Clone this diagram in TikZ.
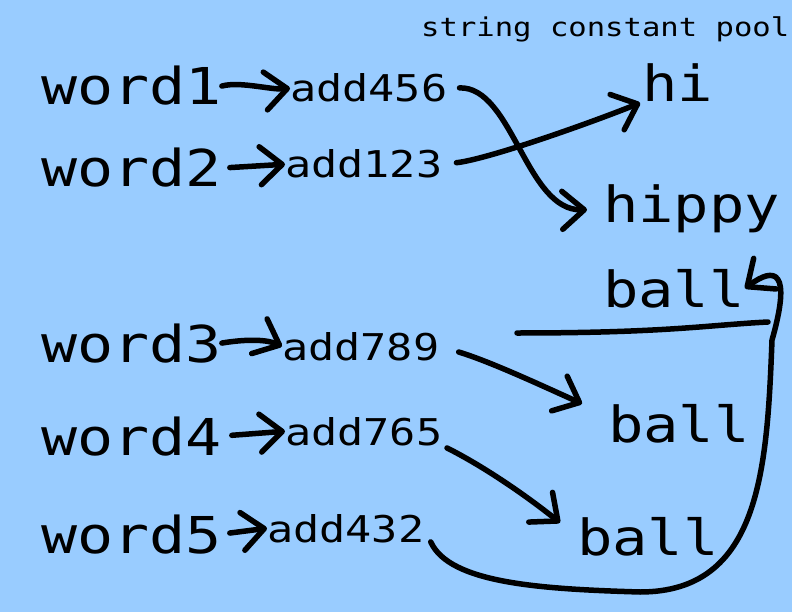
\documentclass[tikz,border=0pt]{standalone}
\usepackage{fontspec}
\usepackage{tikz}
\usetikzlibrary{arrows.meta}
\newfontfamily\pixfont[FakeStretch=1.18]{DejaVu Sans Mono}
\definecolor{sky}{RGB}{153,204,255}

\begin{document}
\begin{tikzpicture}[x=1bp,y=-1bp,
hand/.style={line width=5.5bp,line cap=round,line join=round},
pointer/.style={hand,-{Straight Barb[length=22bp,width=38bp,round]}},
var/.style={anchor=base west,inner sep=0pt,font=\pixfont\fontsize{51}{51}\selectfont},
addr/.style={anchor=base west,inner sep=0pt,font=\pixfont\fontsize{37}{37}\selectfont},
pool/.style={anchor=base west,inner sep=0pt,font=\pixfont\fontsize{50}{50}\selectfont},
pooltitle/.style={anchor=base west,inner sep=0pt,font=\pixfont\fontsize{26}{26}\selectfont}]
\useasboundingbox (0,0) rectangle (792,612);
\fill[sky] (0,0) rectangle (792,612);
\node[pooltitle] (title) at (421,37) {string constant pool};
\foreach \n/\y in {1/105,2/187,3/362,4/455,5/553}
  \node[var] (word\n) at (41,\y) {word\n};
\node[addr] (add456) at (290,102) {add456};
\node[addr] (add123) at (285,178) {add123};
\node[addr] (add789) at (282,360) {add789};
\node[addr] (add765) at (285,445) {add765};
\node[addr] (add432) at (267,542) {add432};
\node[pool] (hi) at (642,102) {hi};
\node[pool] (hippy) at (603,223) {hippy};
\node[pool] (ballA) at (603,307) {ball};
\node[pool] (ballB) at (608,442) {ball};
\node[pool] (ballC) at (577,555) {ball};
% names to addresses
\draw[pointer] (word1.east) .. controls +(18,-5) and +(-18,2) .. (add456.west);
\draw[pointer,shorten <=8bp] (word2.east) -- (add123.west);
\draw[pointer] (word3.east) .. controls +(18,-3) and +(-18,-8) .. (add789.west);
\draw[pointer,shorten <=10bp] (word4.east) -- (add765.west);
\draw[pointer,shorten <=8bp] (word5.east) -- (add432.west);
% addresses to the pool
\draw[pointer,shorten <=12bp,shorten >=16bp] (add456.east) .. controls +(65,-2) and +(-77,2) .. (hippy.west);
\draw[pointer,shorten <=14bp,shorten >=2bp] (add123.east) .. controls +(45,-5) and +(-55,22) .. (hi.south west);
\draw[pointer,shorten <=20bp] (add789.east) .. controls +(50,15) and +(-40,-18) .. ([xshift=-26bp]ballB.north west);
\draw[pointer,shorten <=5bp] (add765.south east) .. controls +(40,20) and +(-35,-28) .. ([shift={(-17,6)}]ballC.north west);
\coordinate (loopS) at (640,592);
\coordinate (loopE) at (772,340);
\draw[pointer,shorten <=15bp] (add432.east) .. controls +(25,55) and +(-100,-3) .. (loopS)
  .. controls +(120,0) and +(-5,130) .. (loopE)
  .. controls +(20,-70) and +(30,-22) .. (ballA.east);
\coordinate (cutL) at (517,333);
\coordinate (cutR) at (768,322);
\draw[hand] (cutL) .. controls +(150,0) and +(-60,3) .. (cutR);
\end{tikzpicture}
\end{document}
